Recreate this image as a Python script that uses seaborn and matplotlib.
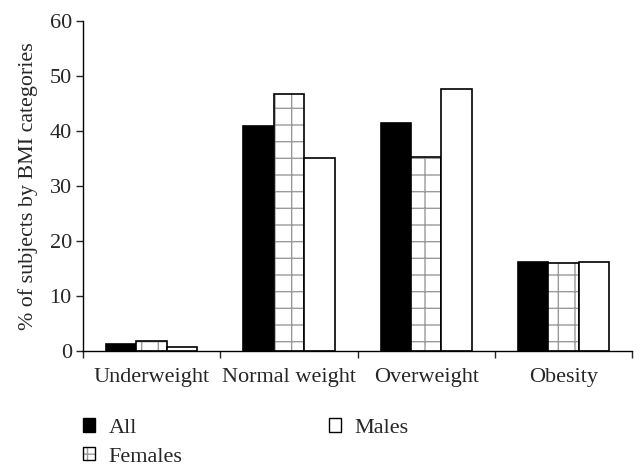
import pandas as pd
import matplotlib
matplotlib.use("Agg")
import matplotlib.pyplot as plt
import seaborn as sns
from matplotlib.patches import Patch
from matplotlib.colors import to_rgba

# Data
categories = ["Underweight", "Normal weight", "Overweight", "Obesity"]
groups = ["All", "Females", "Males"]
all_vals = [1.3, 40.9, 41.5, 16.2]
female_vals = [1.8, 46.7, 35.3, 16.0]
male_vals = [0.8, 35.1, 47.7, 16.2]

df = pd.DataFrame({
    "category": categories * 3,
    "group": ["All"] * 4 + ["Females"] * 4 + ["Males"] * 4,
    "value": all_vals + female_vals + male_vals,
})

sns.set_style("white")
plt.rcParams["font.family"] = ["Liberation Serif", "DejaVu Serif"]
plt.rcParams["hatch.linewidth"] = 1.0
HATCH_GREY = to_rgba("#9a9a9a")

fig = plt.figure(figsize=(6.43, 4.74), dpi=100)
ax = fig.add_axes([0.129, 0.2595, 0.854, 0.696])

palette = {"All": "black", "Females": "white", "Males": "white"}
sns.barplot(data=df, x="category", y="value", hue="group", hue_order=groups,
            order=categories, palette=palette, width=0.665, gap=0,
            edgecolor="black", linewidth=1.2, saturation=1, ax=ax,
            legend=False)

# hatch the Females bars with a grey grid, keep black outline
for bar in ax.containers[1]:
    bar.set_hatch("+")
    bar._hatch_color = HATCH_GREY

ax.set_xlim(-0.5, 3.5)
ax.set_ylim(0, 60)
ax.set_yticks(range(0, 61, 10))
ax.set_xlabel("")
ax.set_ylabel("% of subjects by BMI categories", fontsize=15.8, labelpad=8)
ax.tick_params(axis="y", labelsize=16, length=5, width=1, direction="out",
               left=True, pad=3)
ax.tick_params(axis="x", which="major", labelsize=16, length=0, pad=12)
ax.set_xticks([-0.5, 0.5, 1.5, 2.5, 3.5], minor=True)
ax.tick_params(axis="x", which="minor", length=5, width=1, direction="out",
               bottom=True)

for side in ["top", "right"]:
    ax.spines[side].set_visible(False)
for side in ["left", "bottom"]:
    ax.spines[side].set_color("black")
    ax.spines[side].set_linewidth(1.0)

fem_handle = Patch(facecolor="white", edgecolor="black", hatch="++",
                   linewidth=1.0, label="Females")
fem_handle._hatch_color = HATCH_GREY
handles = [
    Patch(facecolor="black", edgecolor="black", linewidth=1.0, label="All"),
    fem_handle,
    Patch(facecolor="white", edgecolor="black", linewidth=1.0, label="Males"),
]
leg = fig.legend(handles=handles, loc="upper left",
                 bbox_to_anchor=(0.098, 0.16), ncol=2, frameon=False,
                 fontsize=16, handlelength=0.55, handleheight=0.55,
                 handletextpad=0.6, columnspacing=6.6, labelspacing=0.42)
for h in leg.legend_handles:
    if h.get_hatch():
        h._hatch_color = HATCH_GREY

fig.savefig("out.png", dpi=100)
